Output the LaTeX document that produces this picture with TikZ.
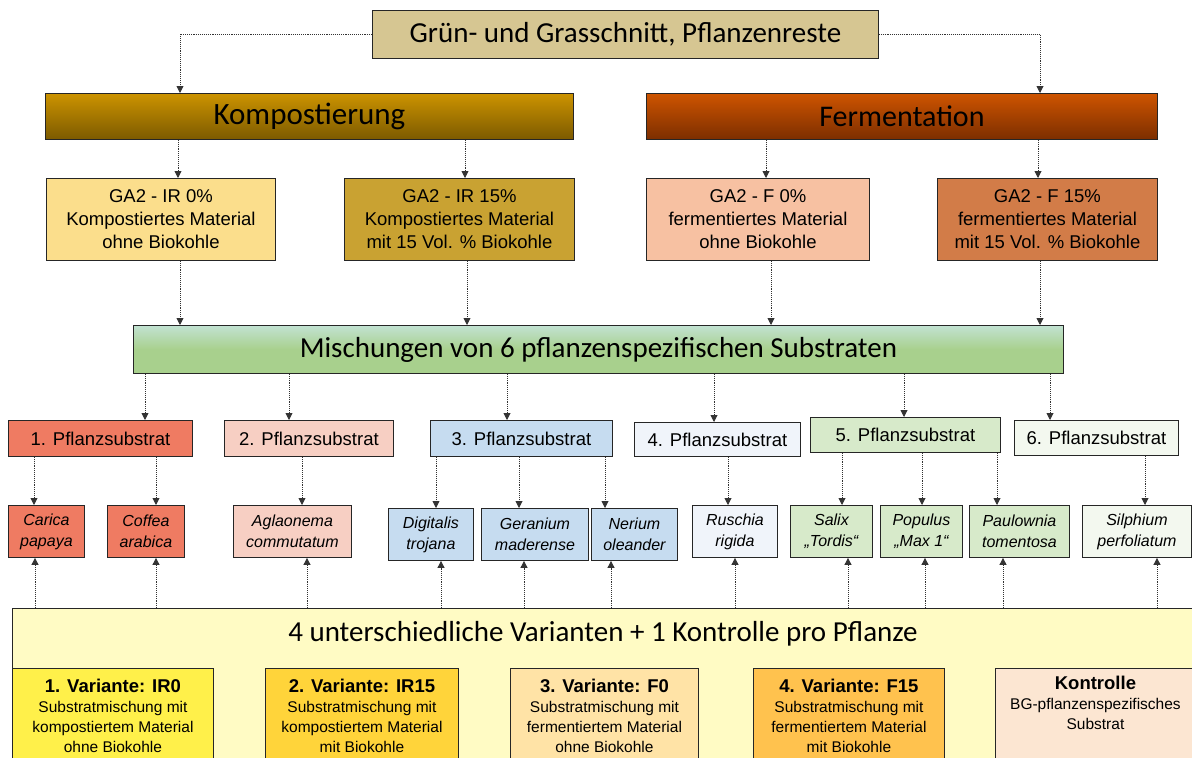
\documentclass[tikz,border=0pt]{standalone}
\usepackage{fontspec}
\setmainfont{Liberation Sans}
\newfontfamily\calib{Carlito}
\usetikzlibrary{arrows.meta}
\newcommand\vartitle{\bfseries\fontsize{18.5}{21}\selectfont}
\definecolor{topc}{HTML}{D6C692}
\definecolor{kompT}{HTML}{CC9300}
\definecolor{kompB}{HTML}{7C5A00}
\definecolor{fermT}{HTML}{CE5400}
\definecolor{fermB}{HTML}{7C2E00}
\definecolor{gaA}{HTML}{FBDE8C}
\definecolor{gaB}{HTML}{C9A232}
\definecolor{gaC}{HTML}{F7C1A2}
\definecolor{gaD}{HTML}{D27C48}
\definecolor{mischT}{HTML}{C2E2D2}
\definecolor{mischB}{HTML}{A8D08D}
\definecolor{sA}{HTML}{EF7B62}
\definecolor{sB}{HTML}{F7CFC3}
\definecolor{sC}{HTML}{C6DCF0}
\definecolor{sD}{HTML}{F0F4FA}
\definecolor{sE}{HTML}{D7EACA}
\definecolor{sF}{HTML}{F3F8EF}
\definecolor{bigc}{HTML}{FFFBC4}
\definecolor{vA}{HTML}{FFF04A}
\definecolor{vB}{HTML}{FFD43A}
\definecolor{vC}{HTML}{FFE3A6}
\definecolor{vD}{HTML}{FFC24E}
\definecolor{vK}{HTML}{FCE6D2}
\begin{document}
\begin{tikzpicture}[x=1pt,y=-1pt,
  box/.style={draw=black!85, line width=0.9pt, inner sep=0pt, anchor=north west, align=center},
  bigtext/.style={font=\calib\fontsize{29}{32}\selectfont},
  ga/.style={box, minimum height=82pt, font=\fontsize{18.5}{23}\selectfont},
  ps/.style={box, font=\fontsize{18.5}{20}\selectfont},
  sp/.style={box, minimum height=52pt, font=\itshape\fontsize{16}{21}\selectfont},
  var/.style={box, minimum height=95pt, font=\fontsize{15.5}{20}\selectfont},
  conn/.style={draw=black!80, densely dotted, line width=0.9pt, -{Triangle[length=7pt,width=7pt]}}]
\useasboundingbox (0,0) rectangle (1192,758);
\clip (0,0) rectangle (1192,758);
% top level
\node[box, bigtext, fill=topc, minimum width=506pt, minimum height=48pt] (top) at (372,10) {Grün- und Grasschnitt, Pflanzenreste};
\node[box, font=\calib\fontsize{31}{34}\selectfont, top color=kompT, bottom color=kompB, minimum width=528pt, minimum height=46pt] (komp) at (45,93) {Kompostierung};
\node[box, font=\calib\fontsize{30}{34}\selectfont, top color=fermT, bottom color=fermB, minimum width=511pt, minimum height=46pt] (ferm) at (646,93) {Fermentation};
\coordinate (kin) at (180,93);
\coordinate (fin) at (1040,93);
\draw[conn] (top.west) -| (kin);
\draw[conn] (top.east) -| (fin);
% GA2 boxes
\node[ga, fill=gaA, minimum width=229pt] (ga1) at (46,178) {GA2 - IR 0\%\\Kompostiertes Material\\ohne Biokohle};
\node[ga, fill=gaB, minimum width=230pt] (ga2) at (344,178) {GA2 - IR 15\%\\Kompostiertes Material\\mit 15 Vol. \% Biokohle};
\node[ga, fill=gaC, minimum width=223pt] (ga3) at (646,178) {GA2 - F 0\%\\fermentiertes Material\\ohne Biokohle};
\node[ga, fill=gaD, minimum width=220pt] (ga4) at (937,178) {GA2 - F 15\%\\fermentiertes Material\\mit 15 Vol. \% Biokohle};
\draw[conn] (178,0 |- komp.south) -- (178,0 |- ga1.north);
\draw[conn] (465,0 |- komp.south) -- (465,0 |- ga2.north);
\draw[conn] (766,0 |- ferm.south) -- (766,0 |- ga3.north);
\draw[conn] (1038,0 |- ferm.south) -- (1038,0 |- ga4.north);
% Mischungen
\node[box, font=\calib\fontsize{29}{32}\selectfont, top color=mischT, bottom color=mischB, middle color=mischB, minimum width=930pt, minimum height=48pt] (misch) at (133,325) {Mischungen von 6 pflanzenspezifischen Substraten};
\draw[conn] (180,0 |- ga1.south) -- (180,0 |- misch.north);
\draw[conn] (467,0 |- ga2.south) -- (467,0 |- misch.north);
\draw[conn] (771,0 |- ga3.south) -- (771,0 |- misch.north);
\draw[conn] (1040,0 |- ga4.south) -- (1040,0 |- misch.north);
% Pflanzsubstrate
\node[ps, fill=sA, minimum width=184pt, minimum height=36pt] (ps1) at (8,420) {1. Pflanzsubstrat};
\node[ps, fill=sB, minimum width=169pt, minimum height=36pt] (ps2) at (224,420) {2. Pflanzsubstrat};
\node[ps, fill=sC, minimum width=182pt, minimum height=36pt] (ps3) at (430,420) {3. Pflanzsubstrat};
\node[ps, fill=sD, minimum width=166pt, minimum height=34pt] (ps4) at (634,422) {4. Pflanzsubstrat};
\node[ps, fill=sE, minimum width=190pt, minimum height=35pt] (ps5) at (810,417) {5. Pflanzsubstrat};
\node[ps, fill=sF, minimum width=164pt, minimum height=35pt] (ps6) at (1014,420) {6. Pflanzsubstrat};
\foreach \n/\x in {ps1/145, ps2/289, ps3/507, ps4/714, ps5/904, ps6/1050}
  \draw[conn] (\x,0 |- misch.south) -- (\x,0 |- \n.north);
% species
\node[sp, fill=sA, minimum width=76pt] (cp) at (8,505) {Carica\\papaya};
\node[sp, fill=sA, minimum width=77pt] (ca) at (107,505) {Coffea\\arabica};
\node[sp, fill=sB, minimum width=118pt] (ac) at (233,505) {Aglaonema\\commutatum};
\node[sp, fill=sC, minimum width=85pt] (dt) at (388,508) {Digitalis\\trojana};
\node[sp, fill=sC, minimum width=107pt] (gm) at (481,508) {Geranium\\maderense};
\node[sp, fill=sC, minimum width=86pt] (no) at (591,508) {Nerium\\oleander};
\node[sp, fill=sD, minimum width=85pt] (rr) at (692,505) {Ruschia\\rigida};
\node[sp, fill=sE, minimum width=82pt] (st) at (790,505) {Salix\\„Tordis“};
\node[sp, fill=sE, minimum width=82pt] (pm) at (880,505) {Populus\\„Max 1“};
\node[sp, fill=sE, minimum width=100pt] (pt) at (969,505) {Paulownia\\tomentosa};
\node[sp, fill=sF, minimum width=109pt] (spp) at (1082,505) {Silphium\\perfoliatum};
\foreach \p/\n/\x in {ps1/cp/34, ps1/ca/156, ps2/ac/302, ps3/dt/436, ps3/gm/519, ps3/no/605, ps4/rr/728, ps5/st/842, ps5/pm/922, ps5/pt/997, ps6/spp/1145}
  \draw[conn] (\x,0 |- \p.south) -- (\x,0 |- \n.north);
% bottom
\node[box, fill=bigc, minimum width=1200pt, minimum height=170pt] (big) at (12,608) {};
\node[bigtext, inner sep=0pt] (bigt) at (603,634) {4 unterschiedliche Varianten + 1 Kontrolle pro Pflanze};
\foreach \n/\x in {cp/35, ca/156, ac/307, dt/441, gm/524, no/611, rr/735, st/848, pm/925, pt/1003, spp/1157}
  \draw[conn] (\x,0 |- big.north) -- (\x,0 |- \n.south);
\node[var, fill=vA, minimum width=201pt] (v1) at (12,668) {{\vartitle 1. Variante: IR0}\\Substratmischung mit\\kompostiertem Material\\ohne Biokohle};
\node[var, fill=vB, minimum width=193pt] (v2) at (265,668) {{\vartitle 2. Variante: IR15}\\Substratmischung mit\\kompostiertem Material\\mit Biokohle};
\node[var, fill=vC, minimum width=188pt] (v3) at (510,668) {{\vartitle 3. Variante: F0}\\Substratmischung mit\\fermentiertem Material\\ohne Biokohle};
\node[var, fill=vD, minimum width=191pt] (v4) at (753,668) {{\vartitle 4. Variante: F15}\\Substratmischung mit\\fermentiertem Material\\mit Biokohle};
\node[var, fill=vK, minimum width=200pt] (ko) at (995,668) {{\vartitle Kontrolle}\\BG-pflanzenspezifisches\\Substrat\\\strut};
\end{tikzpicture}
\end{document}
